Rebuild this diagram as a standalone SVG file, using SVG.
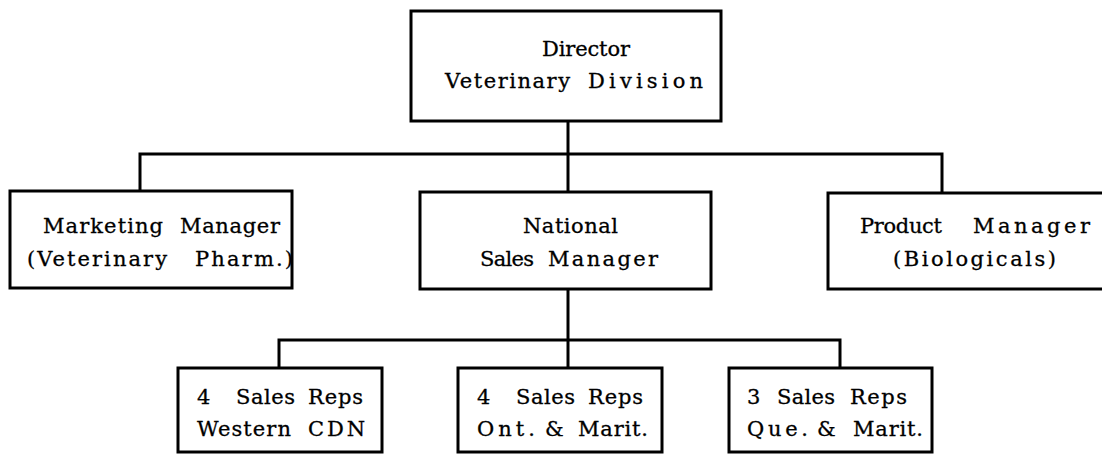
<svg xmlns="http://www.w3.org/2000/svg" width="1102" height="459" viewBox="0 0 1102 459">
  <style>
    .box { fill: #ffffff; stroke: #000000; stroke-width: 3; }
    .wire { fill: none; stroke: #000000; stroke-width: 3; stroke-linejoin: miter; }
    .lbl { font-family: "DejaVu Serif", "Liberation Serif", serif; font-size: 21px; fill: #000000; }
    .lbl text { stroke: #000000; stroke-width: 0.3px; }
  </style>
  <rect width="1102" height="459" fill="#ffffff"/>

  <!-- reporting lines -->
  <g id="connectors">
    <path class="wire" d="M568 121 V192"/>
    <path class="wire" d="M140 192 V154 H942 V192"/>
    <path class="wire" d="M568 289 V368"/>
    <path class="wire" d="M279 368 V340 H840 V368"/>
  </g>

  <!-- each word is set separately so the wide typewritten spacing is kept -->
  <g id="director" class="lbl">
    <rect class="box" x="411" y="11" width="310" height="110"/>
    <text x="542" y="56" textLength="88" lengthAdjust="spacing">Director</text>
    <text x="445" y="88" textLength="125" lengthAdjust="spacing">Veterinary</text>
    <text x="588" y="88" textLength="115" lengthAdjust="spacing">Division</text>
  </g>

  <g id="marketing-manager" class="lbl">
    <rect class="box" x="10" y="191" width="282" height="97"/>
    <text x="43" y="233" textLength="120" lengthAdjust="spacing">Marketing</text>
    <text x="180" y="233" textLength="100" lengthAdjust="spacing">Manager</text>
    <text x="27" y="266" textLength="140" lengthAdjust="spacing">(Veterinary</text>
    <text x="195" y="266" textLength="98" lengthAdjust="spacing">Pharm.)</text>
  </g>

  <g id="national-sales-manager" class="lbl">
    <rect class="box" x="420" y="192" width="291" height="97"/>
    <text x="523" y="233" textLength="95" lengthAdjust="spacing">National</text>
    <text x="480" y="266" textLength="54" lengthAdjust="spacing">Sales</text>
    <text x="548" y="266" textLength="110" lengthAdjust="spacing">Manager</text>
  </g>

  <g id="product-manager" class="lbl">
    <rect class="box" x="828" y="193" width="290" height="96"/>
    <text x="860" y="233" textLength="82" lengthAdjust="spacing">Product</text>
    <text x="973" y="233" textLength="117" lengthAdjust="spacing">Manager</text>
    <text x="893" y="266" textLength="163" lengthAdjust="spacing">(Biologicals)</text>
  </g>

  <g id="reps-western" class="lbl">
    <rect class="box" x="178" y="368" width="204" height="84"/>
    <text x="197" y="404">4</text>
    <text x="236" y="404" textLength="59" lengthAdjust="spacing">Sales</text>
    <text x="308" y="404" textLength="55" lengthAdjust="spacing">Reps</text>
    <text x="197" y="436" textLength="94" lengthAdjust="spacing">Western</text>
    <text x="308" y="436" textLength="57" lengthAdjust="spacing">CDN</text>
  </g>

  <g id="reps-ontario" class="lbl">
    <rect class="box" x="458" y="368" width="204" height="84"/>
    <text x="477" y="404">4</text>
    <text x="516" y="404" textLength="59" lengthAdjust="spacing">Sales</text>
    <text x="588" y="404" textLength="55" lengthAdjust="spacing">Reps</text>
    <text x="477" y="436" textLength="58" lengthAdjust="spacing">Ont.</text>
    <text x="545" y="436">&amp;</text>
    <text x="578" y="436" textLength="70" lengthAdjust="spacing">Marit.</text>
  </g>

  <g id="reps-quebec" class="lbl">
    <rect class="box" x="729" y="368" width="203" height="84"/>
    <text x="747" y="404">3</text>
    <text x="777" y="404" textLength="58" lengthAdjust="spacing">Sales</text>
    <text x="850" y="404" textLength="57" lengthAdjust="spacing">Reps</text>
    <text x="747" y="436" textLength="61" lengthAdjust="spacing">Que.</text>
    <text x="817" y="436">&amp;</text>
    <text x="853" y="436" textLength="70" lengthAdjust="spacing">Marit.</text>
  </g>
</svg>
